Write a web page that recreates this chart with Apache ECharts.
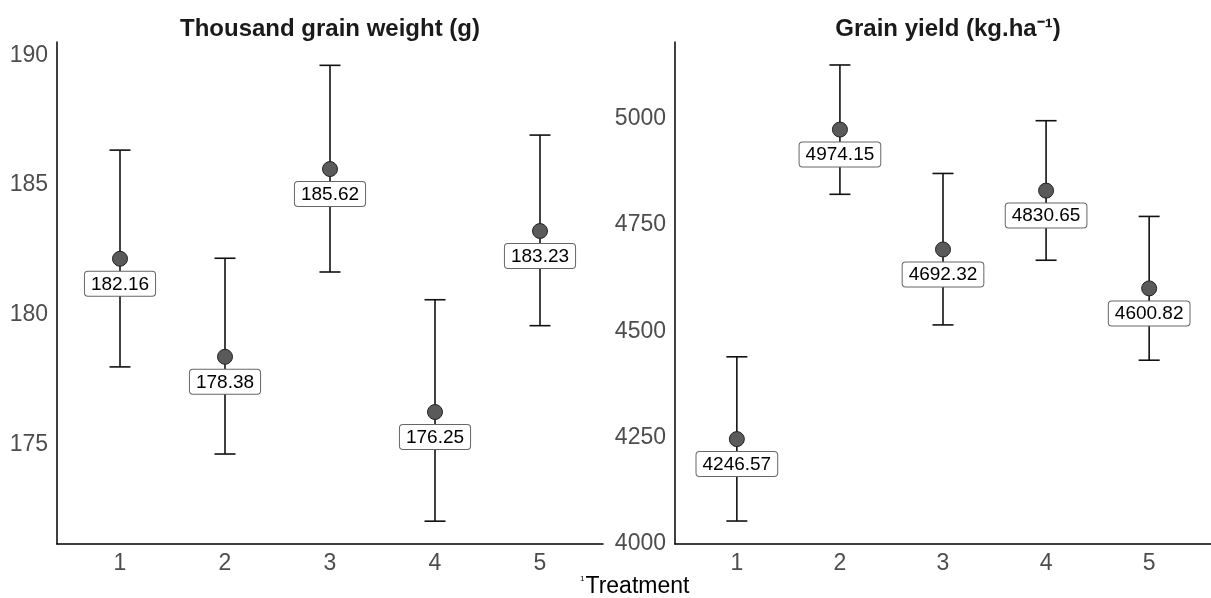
<!DOCTYPE html>
<html>
<head>
<meta charset="utf-8">
<script src="https://cdn.jsdelivr.net/npm/echarts@6/dist/echarts.min.js"></script>
<style>
html,body{margin:0;padding:0;background:#fff;}
#chart{width:1211px;height:598px;}
</style>
</head>
<body>
<div id="chart"></div>
<script>
// ---- data ----
const categories = [1, 2, 3, 4, 5];
const tgwMean  = [182.16, 178.38, 185.62, 176.25, 183.23];
const tgwUpper = [186.35, 182.18, 189.62, 180.58, 186.93];
const tgwLower = [177.99, 174.63, 181.65, 172.04, 179.58];
const gyMean  = [4246.57, 4974.15, 4692.32, 4830.65, 4600.82];
const gyUpper = [4440, 5126, 4871, 4995, 4770];
const gyLower = [4054, 4822, 4515, 4667, 4432];
const tgwTicks = [175, 180, 185, 190];
const gyTicks = [4000, 4250, 4500, 4750, 5000];
const titles = ['Thousand grain weight (g)', 'Grain yield (kg.ha\u207B\u00B9)'];

const FONT = "'Liberation Sans', Arial, sans-serif";
const chart = echarts.init(document.getElementById('chart'), null, {renderer: 'canvas'});

function errRender(params, api) {
  const x = api.value(0), lo = api.value(1), hi = api.value(2);
  const pHi = api.coord([x, hi]);
  const pLo = api.coord([x, lo]);
  const w = 10.5;
  const st = {stroke: '#111', lineWidth: 1.6};
  return {
    type: 'group',
    children: [
      {type: 'line', shape: {x1: pHi[0], y1: pHi[1], x2: pLo[0], y2: pLo[1]}, style: st},
      {type: 'line', shape: {x1: pHi[0] - w, y1: pHi[1], x2: pHi[0] + w, y2: pHi[1]}, style: st},
      {type: 'line', shape: {x1: pLo[0] - w, y1: pLo[1], x2: pLo[0] + w, y2: pLo[1]}, style: st}
    ]
  };
}

function xAxis(idx) {
  return {
    type: 'value', gridIndex: idx, min: 0.4, max: 5.6,
    axisLine: {show: true, onZero: false, lineStyle: {color: '#000', width: 1.5}},
    axisTick: {show: false},
    splitLine: {show: false},
    axisLabel: {customValues: categories, color: '#4d4d4d', fontSize: 23, fontFamily: FONT, margin: 8,
      formatter: v => String(Math.round(v))}
  };
}
function yAxis(idx, min, max, ticks) {
  return {
    type: 'value', gridIndex: idx, min: min, max: max,
    axisLine: {show: true, onZero: false, lineStyle: {color: '#000', width: 1.5}},
    axisTick: {show: false},
    splitLine: {show: false},
    axisLabel: {customValues: ticks, color: '#4d4d4d', fontSize: 23, fontFamily: FONT, margin: 9,
      formatter: v => String(Math.round(v))}
  };
}
function pointSeries(idx, means) {
  return {
    type: 'scatter', xAxisIndex: idx, yAxisIndex: idx, z: 3,
    data: categories.map((c, i) => [c, means[i]]),
    symbolSize: 15,
    itemStyle: {color: '#5a5a5a', borderColor: '#222', borderWidth: 1, opacity: 1},
    label: {
      show: true, position: 'bottom', distance: 5,
      formatter: p => p.value[1].toFixed(2),
      color: '#000', fontSize: 19, fontFamily: FONT,
      backgroundColor: '#fff', borderColor: '#666', borderWidth: 1, borderRadius: 3,
      padding: [3, 6, 2, 6]
    },
    emphasis: {disabled: true},
    animation: false
  };
}
function errSeries(idx, lo, hi) {
  return {
    type: 'custom', xAxisIndex: idx, yAxisIndex: idx, z: 1,
    renderItem: errRender,
    data: categories.map((c, i) => [c, lo[i], hi[i]]),
    animation: false
  };
}

chart.setOption({
  animation: false,
  backgroundColor: '#fff',
  textStyle: {fontFamily: FONT},
  title: [
    {text: titles[0], left: 325, top: 12, textAlign: 'center',
      textStyle: {fontSize: 24, fontWeight: 'bold', color: '#1a1a1a', fontFamily: FONT}},
    {text: titles[1], left: 943, top: 12, textAlign: 'center',
      textStyle: {fontSize: 24, fontWeight: 'bold', color: '#1a1a1a', fontFamily: FONT}}
  ],
  grid: [
    {left: 57, top: 42, width: 546, height: 502},
    {left: 675, top: 42, width: 546, height: 502}
  ],
  xAxis: [xAxis(0), xAxis(1)],
  yAxis: [yAxis(0, 171.16, 190.52, tgwTicks), yAxis(1, 4000, 5180, gyTicks)],
  series: [
    errSeries(0, tgwLower, tgwUpper),
    pointSeries(0, tgwMean),
    errSeries(1, gyLower, gyUpper),
    pointSeries(1, gyMean)
  ],
  graphic: [
    {type: 'text', left: 580, top: 575,
      style: {text: '{s|1}{t|Treatment}',
        rich: {s: {fontSize: 8, fontFamily: FONT, fill: '#000', verticalAlign: 'top', padding: [0, 1, 12, 0]},
               t: {fontSize: 23, fontFamily: FONT, fill: '#000'}}}}
  ]
});
</script>
</body>
</html>
